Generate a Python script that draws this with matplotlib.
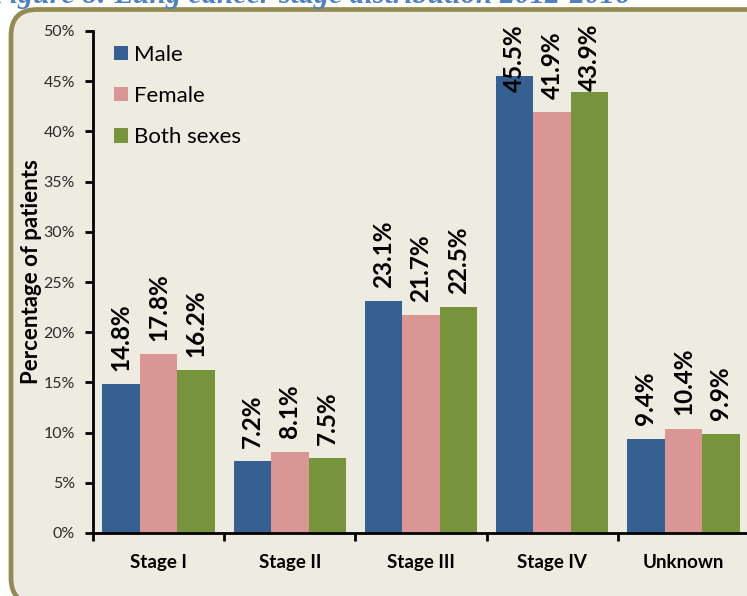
import matplotlib
matplotlib.use("Agg")
import matplotlib.pyplot as plt
import matplotlib.patches as mpatches
import numpy as np

# Data
stages = ["Stage I", "Stage II", "Stage III", "Stage IV", "Unknown"]
male = [14.8, 7.2, 23.1, 45.5, 9.4]
female = [17.8, 8.1, 21.7, 41.9, 10.4]
both = [16.2, 7.5, 22.5, 43.9, 9.9]
series_names = ["Male", "Female", "Both sexes"]
series_colors = ["#366092", "#DA9694", "#77933C"]
title = "Figure 8: Lung cancer stage distribution 2012-2016"

W, H, DPI = 747, 596, 100
fig = plt.figure(figsize=(W / DPI, H / DPI), dpi=DPI, facecolor="white")

# Rounded panel behind the chart (display pixel coordinates)
panel = mpatches.FancyBboxPatch((11, -8), 780, 594.5,
                                boxstyle="round,pad=0,rounding_size=26",
                                transform=None, facecolor="#EEECE1",
                                edgecolor="#948A54", linewidth=3.4, zorder=-5)
fig.patches.append(panel)

# Title strip at the very top
fig.text(-10 / W, 1 - 3 / H, title, ha="left", va="baseline",
         fontsize=21.5, fontweight="bold", fontstyle="italic",
         family="Liberation Serif", color="#4F81BD", zorder=-4)

ax = fig.add_axes([93 / W, (H - 533) / H, 656 / W, 502 / H])
ax.patch.set_visible(False)
ax.set_zorder(2)

x = np.arange(len(stages))
bw = 0.286
data = [male, female, both]
bars_all = []
for i, (vals, name, col) in enumerate(zip(data, series_names, series_colors)):
    bars = ax.bar(x + (i - 1) * bw, vals, width=bw, color=col, label=name,
                  edgecolor="none", zorder=2)
    bars_all.append((bars, vals))

ax.set_xlim(-0.5, len(stages) - 0.5)
ax.set_ylim(0, 50)
ax.set_yticks(np.arange(0, 51, 5))
ax.set_yticklabels([f"{v}%" for v in range(0, 51, 5)])

ax.set_xticks(x)
ax.set_xticklabels(stages, fontsize=13.5, fontweight="bold", family="Lato")
ax.set_xticks(np.arange(-0.5, len(stages), 1.0), minor=True)
ax.tick_params(axis="x", which="major", length=0, pad=15)
ax.tick_params(axis="x", which="minor", length=6, width=2, direction="out")
ax.tick_params(axis="y", length=6, width=2, direction="out", pad=7,
               labelsize=11.5, labelcolor="#2b2b2b")
for lab in ax.get_yticklabels():
    lab.set_family("Lato")

for s in ["top", "right"]:
    ax.spines[s].set_visible(False)
for s in ["left", "bottom"]:
    ax.spines[s].set_linewidth(2)
    ax.spines[s].set_color("black")

ax.set_ylabel("Percentage of patients", fontsize=16, fontweight="bold",
              family="Lato")
ax.yaxis.set_label_coords(-51 / 656, 0.52)

leg = ax.legend(loc="upper left", bbox_to_anchor=(1 / 656, 1 + 6 / 502),
                frameon=False, handlelength=0.62, handleheight=0.62,
                handletextpad=0.3, labelspacing=0.95,
                prop={"family": "Lato", "size": 16})

# Value labels above bars, kept inside the plotting area
labels = []
for bars, vals in bars_all:
    for b, v in zip(bars, vals):
        t = ax.annotate(f"{v:.1f}%", (b.get_x() + b.get_width() / 2, v),
                        xytext=(0, 9.5), textcoords="offset points",
                        rotation=90, ha="center", va="bottom",
                        fontsize=17.5, fontweight="bold", family="Lato",
                        color="black", zorder=3, annotation_clip=False)
        labels.append(t)

fig.canvas.draw()
renderer = fig.canvas.get_renderer()
top_limit = ax.bbox.y1 + 7
for t in labels:
    bb = t.get_window_extent(renderer)
    if bb.y1 > top_limit:
        dy = (bb.y1 - top_limit) * 72 / DPI
        ox, oy = t.xyann
        t.xyann = (ox, oy - dy)

fig.savefig("out.png", dpi=DPI, facecolor="white")
